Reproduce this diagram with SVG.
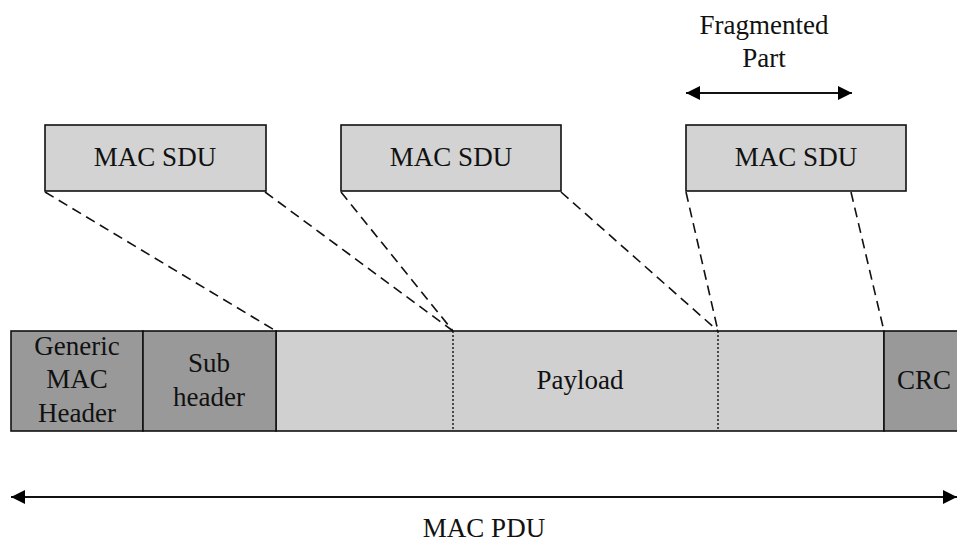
<svg xmlns="http://www.w3.org/2000/svg" width="957" height="549" viewBox="0 0 957 549">
  <defs>
    <marker id="head" viewBox="0 0 10 10" refX="10" refY="5" markerWidth="22" markerHeight="14" markerUnits="userSpaceOnUse" orient="auto-start-reverse">
      <path d="M0,0 L10,5 L0,10 Z" fill="#000"/>
    </marker>
  </defs>
  <style>
    text { font-family: "Liberation Serif", "Times New Roman", serif; font-size: 27px; fill: #111; text-anchor: middle; }
    .sdu { fill: #d3d3d3; stroke: #111; stroke-width: 1.6; }
    .dark { fill: #999; stroke: #111; stroke-width: 1.6; }
    .light { fill: #d0d0d0; stroke: #111; stroke-width: 1.6; }
    .dash { stroke: #111; stroke-width: 1.6; stroke-dasharray: 10 6; fill: none; }
    .dot { stroke: #111; stroke-width: 1.4; stroke-dasharray: 2 2; fill: none; }
    .arrow { stroke: #111; stroke-width: 2; fill: none; }
  </style>

  <rect width="957" height="549" fill="#fff"/>

  <!-- SDUs -->
  <g id="sdu1">
    <rect class="sdu" x="45" y="125" width="221" height="66"/>
    <text x="155" y="166">MAC SDU</text>
  </g>
  <g id="sdu2">
    <rect class="sdu" x="341" y="125" width="220" height="66"/>
    <text x="451" y="166">MAC SDU</text>
  </g>
  <g id="sdu3">
    <rect class="sdu" x="686" y="125" width="220" height="66"/>
    <text x="796" y="166">MAC SDU</text>
  </g>

  <!-- PDU fields -->
  <g id="payload">
    <rect class="light" x="276" y="331" width="608" height="100"/>
    <text x="580" y="389">Payload</text>
  </g>
  <g id="generic-header">
    <rect class="dark" x="11" y="331" width="132" height="100"/>
    <text x="77" y="355">Generic</text>
    <text x="77" y="388">MAC</text>
    <text x="77" y="422">Header</text>
  </g>
  <g id="subheader">
    <rect class="dark" x="143" y="331" width="133" height="100"/>
    <text x="209" y="372">Sub</text>
    <text x="209" y="406">header</text>
  </g>
  <g id="crc">
    <rect class="dark" x="884" y="331" width="80" height="100"/>
    <text x="924" y="389">CRC</text>
  </g>

  <!-- Connectors -->
  <g id="connectors">
    <line class="dot" x1="453" y1="331" x2="453" y2="431"/>
    <line class="dot" x1="718" y1="331" x2="718" y2="431"/>
    <line class="dash" x1="45" y1="192" x2="276" y2="331"/>
    <line class="dash" x1="265" y1="192" x2="453" y2="331"/>
    <line class="dash" x1="341" y1="192" x2="453" y2="331"/>
    <line class="dash" x1="561" y1="192" x2="718" y2="331"/>
    <line class="dash" x1="686" y1="192" x2="718" y2="331"/>
    <line class="dash" x1="851" y1="192" x2="884" y2="331"/>
    <line class="arrow" x1="686" y1="93" x2="852" y2="93" marker-start="url(#head)" marker-end="url(#head)"/>
    <line class="arrow" x1="11" y1="497" x2="957" y2="497" marker-start="url(#head)" marker-end="url(#head)"/>
  </g>

  <!-- Labels -->
  <g id="fragmented-label">
    <text x="764" y="34">Fragmented</text>
    <text x="764" y="67">Part</text>
  </g>
  <g id="pdu-label">
    <text x="484" y="537">MAC PDU</text>
  </g>
</svg>
